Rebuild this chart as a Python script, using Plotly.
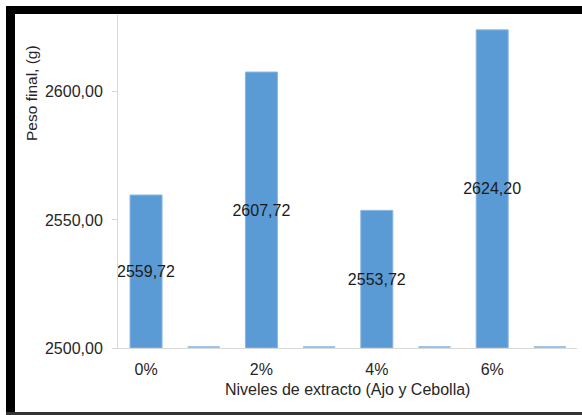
import plotly.graph_objects as go

# ---- data ----
categories = ["0%", "2%", "4%", "6%"]
peso_final = [2559.72, 2607.72, 2553.72, 2624.20]
serie_2 = [2500.4, 2500.4, 2500.4, 2500.4]
y_min = 2500
y_max = 2630
y_ticks = [2500, 2550, 2600]

W, H = 582, 415
ML, MR, MT, MB = 118, 5, 15, 67
PW, PH = W - ML - MR, H - MT - MB

FONT = "Liberation Sans, Arial, sans-serif"
TXT = "#262626"


def px_x(p):
    return (p - ML) / PW


def px_y(p):
    return (H - MB - p) / PH


main_x = [2 * i for i in range(len(categories))]
side_x = [2 * i + 1 for i in range(len(categories))]

fig = go.Figure()
fig.add_trace(go.Bar(
    x=main_x,
    y=[v - y_min for v in peso_final],
    base=y_min,
    width=0.555,
    marker=dict(color="#5b9bd5", line=dict(color="#8ab6e2", width=1)),
    text=[f"{v:.2f}".replace(".", ",") for v in peso_final],
    textposition="inside",
    insidetextanchor="middle",
    textangle=0,
    constraintext="none",
    cliponaxis=False,
    textfont=dict(family=FONT, size=16, color="#1a1a1a"),
    showlegend=False,
))
fig.add_trace(go.Bar(
    x=side_x,
    y=[v - y_min for v in serie_2],
    base=y_min,
    width=0.555,
    marker=dict(color="#9dc3e6", line=dict(width=0)),
    showlegend=False,
))

fig.update_layout(
    width=W, height=H,
    margin=dict(l=ML, r=MR, t=MT, b=MB),
    paper_bgcolor="white", plot_bgcolor="white",
    separators=",.",
    barmode="overlay",
    uniformtext=dict(mode=False),
    font=dict(family=FONT, size=16, color=TXT),
    xaxis=dict(
        range=[-0.486, 7.47],
        tickvals=main_x, ticktext=categories,
        showgrid=False, zeroline=False,
        showline=True, linecolor="#d9d9d9", linewidth=1,
        ticks="", ticklabelstandoff=7,
        tickfont=dict(family=FONT, size=16, color=TXT),
    ),
    yaxis=dict(
        range=[y_min, y_max],
        tickvals=y_ticks, tickformat=".2f",
        showgrid=False, zeroline=False,
        showline=True, linecolor="#d9d9d9", linewidth=1,
        ticks="outside", ticklen=5, tickcolor="#d9d9d9",
        ticklabelstandoff=6,
        tickfont=dict(family=FONT, size=16, color=TXT),
    ),
    annotations=[
        dict(text="Peso final, (g)", xref="paper", yref="paper",
             x=px_x(31), y=px_y(93), textangle=-90, showarrow=False,
             xanchor="center", yanchor="middle",
             font=dict(family=FONT, size=15.5, color=TXT)),
        dict(text="Niveles de extracto (Ajo y Cebolla)", xref="paper", yref="paper",
             x=px_x(347), y=px_y(389), showarrow=False,
             xanchor="center", yanchor="middle",
             font=dict(family=FONT, size=16, color=TXT)),
    ],
    shapes=[
        dict(type="rect", xref="paper", yref="paper",
             x0=px_x(6), x1=px_x(582), y0=px_y(6), y1=px_y(14),
             fillcolor="black", line=dict(width=0), layer="above"),
        dict(type="rect", xref="paper", yref="paper",
             x0=px_x(6), x1=px_x(15), y0=px_y(6), y1=px_y(415),
             fillcolor="black", line=dict(width=0), layer="above"),
        dict(type="rect", xref="paper", yref="paper",
             x0=px_x(6), x1=px_x(582), y0=px_y(412), y1=px_y(415),
             fillcolor="#333333", line=dict(width=0), layer="above"),
    ],
)

fig.write_html("out.html")
